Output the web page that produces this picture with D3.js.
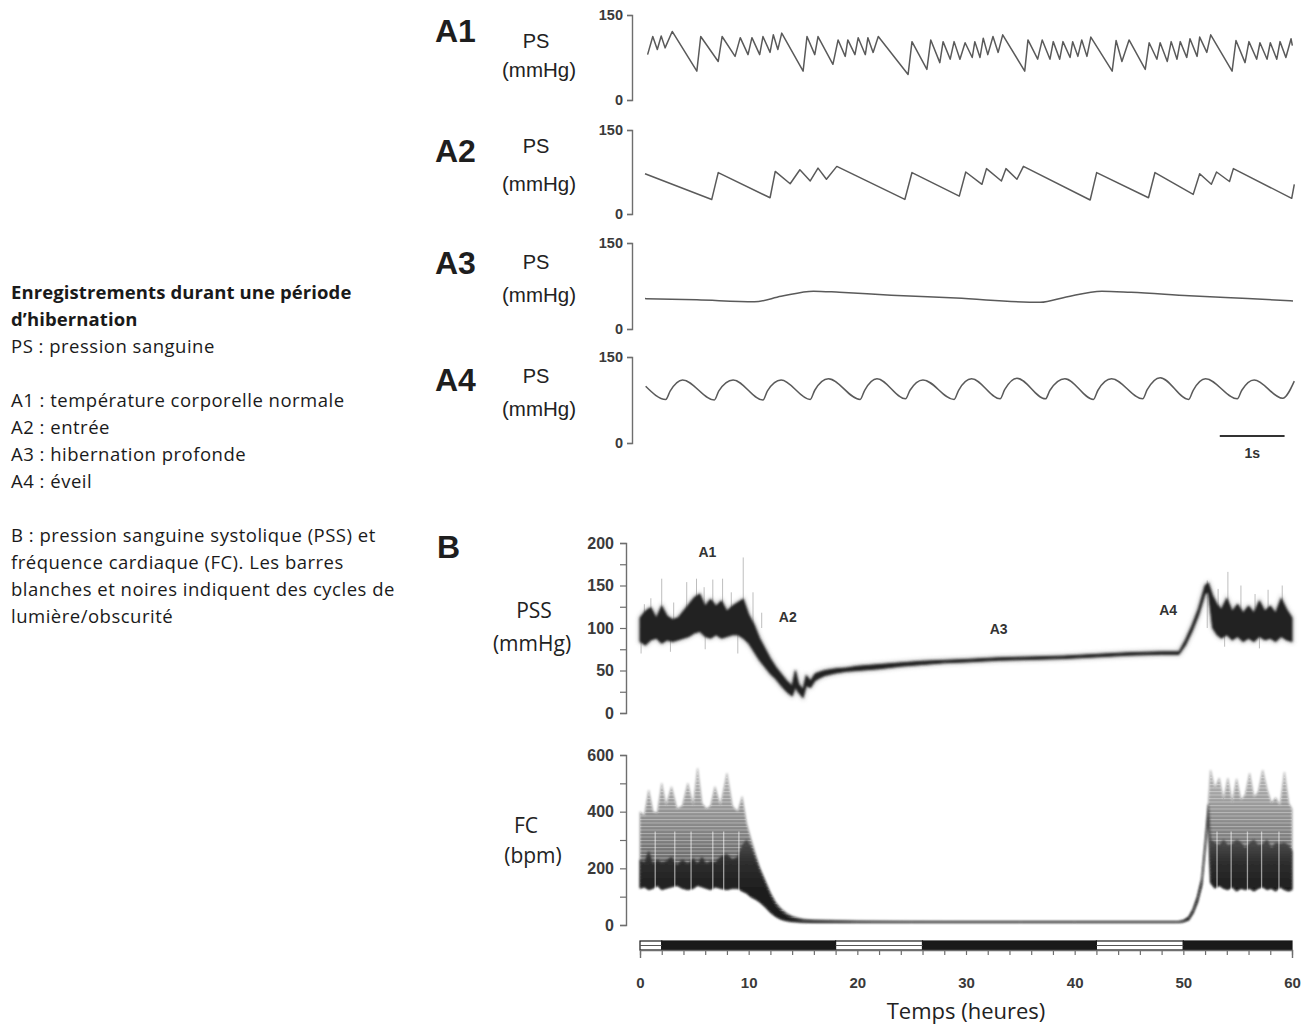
<!DOCTYPE html>
<html>
<head>
<meta charset="utf-8">
<script src="https://cdn.jsdelivr.net/npm/d3@7"></script>
<style>
  body { margin: 0; background: #fff; }
  svg { display: block; }
</style>
</head>
<body>
<div id="chart"></div>
<script>
// ---------- data ----------
// panel A traces: [time (s), pressure (mmHg)]
const psTicks = [0, 150];

const a1Trace = [[0.04,80],[0.12,112],[0.19,89],[0.25,113],[0.31,92],[0.42,121],[0.80,51],[0.86,112],[1.13,68],[1.19,112],
  [1.39,77],[1.47,110],[1.59,80],[1.65,110],[1.77,80],[1.82,112],[1.93,84],[1.98,115],[2.05,89],[2.11,118],[2.44,51],[2.50,112],
  [2.62,80],[2.67,112],[2.90,63],[2.98,106],[3.09,77],[3.13,106],[3.24,80],[3.29,110],[3.40,80],[3.44,110],[3.52,84],[3.60,112],
  [4.06,45],[4.12,103],[4.35,54],[4.41,106],[4.55,66],[4.60,103],[4.71,72],[4.77,103],[4.86,72],[4.94,101],[5.05,75],[5.09,103],
  [5.17,75],[5.22,109],[5.29,80],[5.37,112],[5.45,84],[5.52,115],[5.86,51],[5.91,106],[6.06,72],[6.13,106],[6.25,72],[6.30,103],
  [6.40,72],[6.45,103],[6.56,75],[6.60,103],[6.68,77],[6.74,106],[6.82,77],[6.88,111],[7.21,51],[7.27,105],[7.36,68],[7.47,106],
  [7.72,54],[7.78,101],[7.90,72],[7.95,101],[8.06,68],[8.12,103],[8.21,72],[8.26,103],[8.36,75],[8.41,108],[8.52,77],[8.56,111],
  [8.67,84],[8.73,115],[9.06,51],[9.12,105],[9.26,66],[9.32,103],[9.44,72],[9.49,101],[9.60,72],[9.65,101],[9.75,72],[9.80,103],
  [9.89,75],[9.97,108],[9.99,96]];

const a2Trace = [[0,72],[1.03,26],[1.13,74],[1.93,29],[2.01,76],[2.24,54],[2.39,79],[2.55,59],[2.67,82],[2.80,62],[2.96,85],
  [4.01,26],[4.12,74],[4.85,32],[4.95,75],[5.20,53],[5.27,81],[5.50,59],[5.57,81],[5.74,62],[5.84,85],[6.87,25],[6.97,74],
  [7.77,29],[7.87,74],[8.46,35],[8.56,72],[8.74,53],[8.82,75],[9.02,58],[9.08,81],[9.98,28],[10.02,53]];

const a3Trace = [[0,53],[0.8,51],[1.69,47.5],[2.1,57],[2.6,66],[3.0,64],[3.8,59],[4.8,54],[6.1,46.5],[6.5,56],[7.05,66],
  [7.5,64],[8.4,58],[9.3,53],[10,49]];

// trough, upstroke shoulder, rounded peak, decay
const a4Trace = [[0.01,99],[0.32,76],[0.39,91],[0.58,110],[1.07,75],[1.14,91],[1.36,110],[1.82,75],[1.89,91],[2.10,110],
  [2.55,76],[2.62,92],[2.83,112],[3.32,76],[3.39,92],[3.58,112],[4.02,77],[4.09,92],[4.29,110],[4.77,76],[4.84,92],[5.04,112],
  [5.48,77],[5.55,93],[5.74,113],[6.18,77],[6.25,92],[6.48,112],[6.92,76],[6.99,92],[7.20,112],[7.68,77],[7.75,93],[7.95,114],
  [8.39,76],[8.46,92],[8.65,112],[9.14,77],[9.21,92],[9.40,110],[9.84,78],[10.02,108]];

// panel B: [hour, low, high] systolic pressure band
const pssTicks = [0, 25, 50, 75, 100, 125, 150, 175, 200];
const pssBand = [[0,84,112],[0.5,80,120],[1,86,124],[1.5,88,112],[2,82,126],[2.5,86,114],[3,84,110],[3.5,86,112],
  [4,88,120],[4.5,90,128],[5,94,136],[5.5,96,140],[6,90,126],[6.5,88,134],[7,92,126],[7.5,88,132],[8,90,120],
  [8.5,92,126],[9,92,130],[9.5,88,134],[10,82,116],[10.5,72,104],[11,62,88],[11.5,54,76],[12,46,64],[12.5,40,54],
  [13,32,46],[13.5,25,38],[14,20,32],[14.3,30,50],[14.6,24,34],[15,18,28],[15.3,32,44],[15.7,30,38],[16.1,38,46],
  [16.5,41,48],[17,44,50],[18,47,52],[19,49,53],[20,50,55],[22,52,57],[24,55,59],[26,57,61],[28,59,62],[30,60,63],
  [33,62,65],[36,63,66],[39,64,67],[42,66,69],[45,68,71],[48,69,72],[49.6,69,72],[50.2,80,86],[50.8,96,103],
  [51.4,115,123],[52,140,150],[52.3,142,153],[52.7,100,138],[53.1,92,128],[53.5,88,122],[54,92,135],[54.5,86,120],
  [55,90,128],[55.5,84,118],[56,88,126],[56.5,84,118],[57,90,132],[57.5,86,120],[58,88,126],[58.5,84,118],
  [59,90,135],[59.5,86,122],[60,84,112]];
// isolated excursions: [hour, mmHg]
const pssSpikes = [[0.4,128],[1.0,135],[2.0,158],[3.1,130],[4.3,154],[5.2,158],[5.9,148],[6.7,157],[7.6,158],[8.4,142],
  [9.5,183],[10.4,142],[11.2,118],[0.1,70],[2.8,72],[6.0,75],[9.0,70],[52.2,156],[53.2,146],[54.1,166],[55.3,150],
  [56.6,140],[57.8,145],[59.1,150],[53.8,78],[57,76]];

// heart rate: [hour, dark low, dark high, grey high]
const fcTicks = [0, 100, 200, 300, 400, 500, 600];
const fcBand = [[0,130,230,400],[0.4,135,220,385],[0.8,125,260,476],[1.2,130,215,400],[1.6,140,230,395],[2.0,125,220,500],
  [2.4,130,225,420],[2.9,135,240,488],[3.4,140,210,410],[3.9,130,230,420],[4.4,125,215,500],[4.9,130,235,420],
  [5.3,140,215,553],[5.7,135,240,430],[6.1,130,215,410],[6.5,125,225,420],[6.9,135,220,488],[7.4,130,240,420],
  [8.0,125,250,535],[8.5,130,230,420],[9.0,130,240,400],[9.4,120,280,453],[9.8,113,300,360],[10.2,100,275,305],
  [10.6,92,235,255],[11.0,82,195,205],[11.5,65,150,160],[12.0,45,105,115],[12.5,30,70,80],[13.0,20,48,58],
  [13.5,15,34,42],[14.0,12,25,32],[14.5,11,20,26],[15,10,17,21],[16,9,15,18],[18,9,14,16],[20,9,13,14],[25,9,12,13],
  [30,9,12,12],[35,9,12,12],[40,9,12,12],[45,9,12,12],[49.5,9,12,12],[50.0,11,16,16],[50.5,18,28,28],[50.9,42,56,56],
  [51.3,80,100,100],[51.7,140,165,165],[52.0,260,290,290],[52.3,380,425,425],[52.5,150,300,547],[52.9,130,290,480],
  [53.3,140,280,519],[53.7,130,300,440],[54.1,125,280,518],[54.5,135,285,430],[54.9,120,300,516],[55.3,130,290,440],
  [55.7,125,270,460],[56.1,130,290,536],[56.5,120,300,450],[56.9,130,280,470],[57.3,135,285,547],[57.7,125,300,480],
  [58.1,130,270,430],[58.5,120,290,450],[58.9,135,285,420],[59.3,125,290,540],[59.7,120,280,430],[60,125,260,410]];
const fcGaps = [1.4, 3.2, 4.7, 6.7, 7.7, 9.1, 53.1, 54.4, 55.9, 57.2, 58.8];

// light / dark cycle: [start h, end h, light?]
const lightCycle = [[0,2,true],[2,18,false],[18,26,true],[26,42,false],[42,50,true],[50,60,false]];
const hourTicks = d3.range(0, 61, 2);

const notes = [
  ["Enregistrements durant une période", true],
  ["d’hibernation", true],
  ["PS : pression sanguine", false],
  ["", false],
  ["A1 : température corporelle normale", false],
  ["A2 : entrée", false],
  ["A3 : hibernation profonde", false],
  ["A4 : éveil", false],
  ["", false],
  ["B :  pression sanguine systolique (PSS) et", false],
  ["fréquence cardiaque (FC). Les barres", false],
  ["blanches et noires indiquent des cycles de", false],
  ["lumière/obscurité", false]
];

// ---------- drawing ----------
const W = 1313, H = 1025;
const svg = d3.select("#chart").append("svg").attr("width", W).attr("height", H);

const defs = svg.append("defs");
defs.append("filter").attr("id", "soft")
  .append("feGaussianBlur").attr("stdDeviation", 0.8);
defs.append("filter").attr("id", "halo")
  .append("feGaussianBlur").attr("stdDeviation", 2.2);
const greyGrad = defs.append("linearGradient").attr("id", "greyGrad")
  .attr("gradientUnits", "userSpaceOnUse").attr("x1", 0).attr("x2", 0).attr("y1", 760).attr("y2", 890);
greyGrad.append("stop").attr("offset", 0).attr("stop-color", "#c2c2c2");
greyGrad.append("stop").attr("offset", 0.45).attr("stop-color", "#8e8e8e");
greyGrad.append("stop").attr("offset", 1).attr("stop-color", "#555");
const darkGrad = defs.append("linearGradient").attr("id", "darkGrad")
  .attr("gradientUnits", "userSpaceOnUse").attr("x1", 0).attr("x2", 0).attr("y1", 835).attr("y2", 890);
darkGrad.append("stop").attr("offset", 0).attr("stop-color", "#555");
darkGrad.append("stop").attr("offset", 0.5).attr("stop-color", "#2e2e2e");
darkGrad.append("stop").attr("offset", 1).attr("stop-color", "#1e1e1e");
const stripes = defs.append("pattern").attr("id", "stripes")
  .attr("patternUnits", "userSpaceOnUse").attr("width", 6).attr("height", 3.5);
stripes.append("rect").attr("width", 6).attr("height", 1).attr("fill", "#fff").attr("opacity", 0.35);

const calibri = "'Open Sans', Lato, sans-serif";
const arial = "'Liberation Sans', Arial, sans-serif";

// left notes
svg.append("g").selectAll("text").data(notes).join("text")
  .attr("x", 11)
  .attr("y", (d, i) => 299 + i * 27)
  .attr("font-family", calibri)
  .attr("font-size", 18.5)
  .attr("letter-spacing", d => d[1] ? 0.1 : 0.5)
  .attr("font-weight", d => d[1] ? "bold" : "normal")
  .attr("fill", "#1a1a1a")
  .text(d => d[0]);

function styleAxis(g, size) {
  g.select(".domain").attr("stroke", "#6e6e6e").attr("stroke-width", 1.4);
  g.selectAll(".tick line").attr("stroke", "#6e6e6e").attr("stroke-width", 1.2);
  g.selectAll(".tick text").attr("font-family", arial).attr("font-size", size)
    .attr("font-weight", "bold").attr("fill", "#3a3a3a");
}

// ----- panel A -----
const xA = d3.scaleLinear().domain([0, 10]).range([645, 1293]);
const aPanels = [
  { label: "A1", trace: a1Trace, bottom: 100, top: 15, curve: d3.curveLinear, labelY: 42, psY: 48, unitY: 77 },
  { label: "A2", trace: a2Trace, bottom: 214, top: 130, curve: d3.curveLinear, labelY: 162, psY: 153, unitY: 191 },
  { label: "A3", trace: a3Trace, bottom: 329, top: 243, curve: d3.curveMonotoneX, labelY: 274, psY: 269, unitY: 302 },
  { label: "A4", trace: a4Trace, bottom: 443, top: 357, curve: d3.curveMonotoneX, labelY: 391, psY: 383, unitY: 416 }
];

aPanels.forEach(p => {
  const y = d3.scaleLinear().domain([0, 150]).range([p.bottom, p.top]);
  svg.append("g").attr("transform", "translate(632,0)")
    .call(d3.axisLeft(y).tickValues(psTicks).tickSize(5).tickPadding(4))
    .call(g => styleAxis(g, 14.5));

  svg.append("path").datum(p.trace)
    .attr("d", d3.line().x(d => xA(d[0])).y(d => y(d[1])).curve(p.curve))
    .attr("fill", "none").attr("stroke", "#5a5a5a").attr("stroke-width", 1.5)
    .attr("stroke-linejoin", "round");

  svg.append("text").attr("x", 435).attr("y", p.labelY).text(p.label)
    .attr("font-family", arial).attr("font-size", 32).attr("font-weight", "bold").attr("fill", "#1e1e1e");
  svg.append("text").attr("x", 536).attr("y", p.psY).text("PS")
    .attr("text-anchor", "middle").attr("font-family", arial).attr("font-size", 20).attr("fill", "#222");
  svg.append("text").attr("x", 539).attr("y", p.unitY).text("(mmHg)")
    .attr("text-anchor", "middle").attr("font-family", arial).attr("font-size", 20.5).attr("fill", "#222");
});

// scale bar 1 s
svg.append("line").attr("x1", xA(8.87)).attr("x2", xA(9.87)).attr("y1", 436).attr("y2", 436)
  .attr("stroke", "#333").attr("stroke-width", 2);
svg.append("text").attr("x", xA(9.37)).attr("y", 458).attr("text-anchor", "middle").text("1s")
  .attr("font-family", arial).attr("font-size", 14).attr("font-weight", "bold").attr("fill", "#333");

// ----- panel B -----
const xB = d3.scaleLinear().domain([0, 60]).range([640, 1292]);
const yPss = d3.scaleLinear().domain([0, 200]).range([713, 543]);
const yFc = d3.scaleLinear().domain([0, 600]).range([925, 755]);

svg.append("text").attr("x", 437).attr("y", 558).text("B")
  .attr("font-family", arial).attr("font-size", 32).attr("font-weight", "bold").attr("fill", "#1e1e1e");

svg.append("g").attr("transform", "translate(626,0)")
  .call(d3.axisLeft(yPss).tickValues(pssTicks).tickFormat(d => d % 50 === 0 ? d : "").tickSize(6).tickPadding(6))
  .call(g => styleAxis(g, 16));
svg.append("g").attr("transform", "translate(626,0)")
  .call(d3.axisLeft(yFc).tickValues(fcTicks).tickFormat(d => d % 200 === 0 ? d : "").tickSize(6).tickPadding(6))
  .call(g => styleAxis(g, 16));

// PSS
const pssArea = d3.area().x(d => xB(d[0])).y0(d => yPss(d[1])).y1(d => yPss(d[2]));
svg.append("g").selectAll("line").data(pssSpikes).join("line")
  .attr("x1", d => xB(d[0])).attr("x2", d => xB(d[0]))
  .attr("y1", yPss(100)).attr("y2", d => yPss(d[1]))
  .attr("stroke", "#888").attr("stroke-width", 1).attr("opacity", 0.55);
svg.append("path").datum(pssBand).attr("d", pssArea)
  .attr("fill", "#777").attr("stroke", "#888").attr("stroke-width", 3).attr("opacity", 0.55)
  .attr("filter", "url(#halo)");
svg.append("path").datum(pssBand).attr("d", pssArea)
  .attr("fill", "#222").attr("stroke", "#2a2a2a").attr("stroke-width", 1).attr("filter", "url(#soft)");

// FC
const fcGrey = d3.area().x(d => xB(d[0])).y0(d => yFc(d[1])).y1(d => yFc(d[3]));
svg.append("path").datum(fcBand).attr("d", fcGrey)
  .attr("fill", "url(#greyGrad)").attr("stroke", "#aaa").attr("stroke-width", 0.8).attr("filter", "url(#soft)");
svg.append("path").datum(fcBand).attr("d", fcGrey).attr("fill", "url(#stripes)");
svg.append("path").datum(fcBand)
  .attr("d", d3.area().x(d => xB(d[0])).y0(d => yFc(d[1])).y1(d => yFc(d[2])))
  .attr("fill", "url(#darkGrad)").attr("stroke", "#3a3a3a").attr("stroke-width", 0.8).attr("filter", "url(#soft)");
svg.append("g").selectAll("line").data(fcGaps).join("line")
  .attr("x1", d => xB(d)).attr("x2", d => xB(d))
  .attr("y1", yFc(115)).attr("y2", yFc(330))
  .attr("stroke", "#fff").attr("stroke-width", 1.3).attr("opacity", 0.55);

// phase labels inside B
const phaseLabels = [["A1", 6.2, 184], ["A2", 13.6, 107], ["A3", 33, 93], ["A4", 48.6, 115]];
svg.append("g").selectAll("text").data(phaseLabels).join("text")
  .attr("x", d => xB(d[1])).attr("y", d => yPss(d[2]))
  .attr("text-anchor", "middle").text(d => d[0])
  .attr("font-family", arial).attr("font-size", 14).attr("font-weight", "bold").attr("fill", "#333");

// light/dark bar
const barTop = 941, barBottom = 950;
const bar = svg.append("g");
bar.selectAll("rect").data(lightCycle).join("rect")
  .attr("x", d => xB(d[0])).attr("width", d => xB(d[1]) - xB(d[0]))
  .attr("y", barTop).attr("height", barBottom - barTop)
  .attr("fill", d => d[2] ? "#fff" : "#1a1a1a")
  .attr("stroke", "#1a1a1a").attr("stroke-width", 1.2);
bar.selectAll("line").data(lightCycle.filter(d => d[2])).join("line")
  .attr("x1", d => xB(d[0])).attr("x2", d => xB(d[1]))
  .attr("y1", (barTop + barBottom) / 2).attr("y2", (barTop + barBottom) / 2)
  .attr("stroke", "#555").attr("stroke-width", 1);

svg.append("g").attr("transform", `translate(0,${barBottom})`)
  .call(d3.axisBottom(xB).tickValues(hourTicks).tickFormat(d => d % 10 === 0 ? d : "")
    .tickSizeInner(5).tickSizeOuter(8).tickPadding(22))
  .call(g => styleAxis(g, 15));

svg.append("text").attr("x", xB(30)).attr("y", 1019).attr("text-anchor", "middle")
  .text("Temps (heures)").attr("font-family", calibri).attr("font-size", 22).attr("fill", "#222");

svg.append("text").attr("x", 534).attr("y", 618).attr("text-anchor", "middle").text("PSS")
  .attr("font-family", calibri).attr("font-size", 21).attr("fill", "#222");
svg.append("text").attr("x", 532).attr("y", 651).attr("text-anchor", "middle").text("(mmHg)")
  .attr("font-family", calibri).attr("font-size", 21).attr("fill", "#222");
svg.append("text").attr("x", 526).attr("y", 833).attr("text-anchor", "middle").text("FC")
  .attr("font-family", calibri).attr("font-size", 21).attr("fill", "#222");
svg.append("text").attr("x", 533).attr("y", 863).attr("text-anchor", "middle").text("(bpm)")
  .attr("font-family", calibri).attr("font-size", 21).attr("fill", "#222");
</script>
</body>
</html>
